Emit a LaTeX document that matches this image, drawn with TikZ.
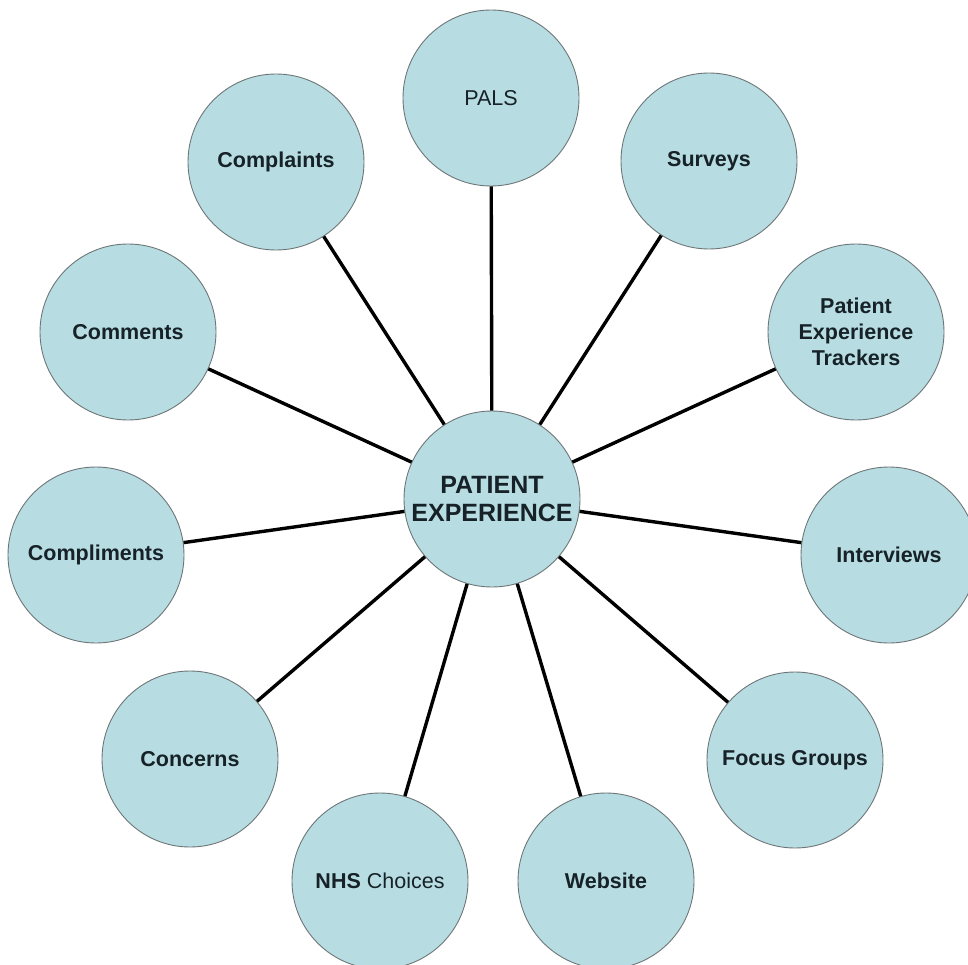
\documentclass[tikz,border=0pt]{standalone}
\usepackage{fontspec}
\setmainfont{Liberation Sans}
\definecolor{bubble}{RGB}{183,221,226}
\definecolor{rim}{RGB}{110,118,120}
\definecolor{ink}{RGB}{22,34,40}
\begin{document}
\begin{tikzpicture}[x=1pt,y=-1pt,
  hub/.style={circle,fill=bubble,draw=rim,line width=0.9pt,minimum size=176pt,inner sep=0pt,
    align=center,text=ink,font=\fontsize{25}{28}\selectfont\bfseries},
  leaf/.style={circle,fill=bubble,draw=rim,line width=0.9pt,minimum size=176pt,inner sep=0pt,
    align=center,text=ink,font=\fontsize{21.5}{26}\selectfont\bfseries},
  spoke/.style={line width=3.4pt,black}]
\useasboundingbox (0,0) rectangle (968,965);
\fill[white] (0,0) rectangle (968,965);
% hub
\node[hub] (pe) at (492,499) {PATIENT\\EXPERIENCE};
% satellites, clockwise from the top
\node[leaf,font=\fontsize{21.5}{26}\selectfont] (pals) at (491,98) {PALS};
\node[leaf] (surv) at (709,161) {Surveys};
\node[leaf] (pet) at (856,332) {Patient\\Experience\\Trackers};
\node[leaf] (intv) at (889,555) {Interviews};
\node[leaf] (focus) at (795,760) {Focus Groups};
\node[leaf] (web) at (606,881) {Website};
\node[leaf] (nhs) at (380,881) {NHS {\mdseries Choices}};
\node[leaf] (conc) at (190,759) {Concerns};
\node[leaf] (compl) at (96,555) {Compliments};
\node[leaf] (comm) at (128,332) {Comments};
\node[leaf] (cmpl) at (276,162) {Complaints};
% spokes
\foreach \n in {pals,surv,pet,intv,focus,web,nhs,conc,compl,comm,cmpl}
  \draw[spoke] (pe) -- (\n);
\end{tikzpicture}
\end{document}
